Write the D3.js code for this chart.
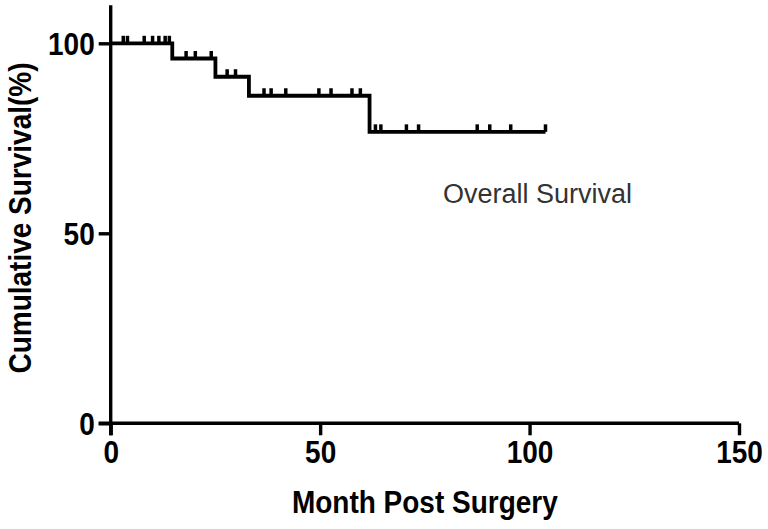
<!DOCTYPE html>
<html>
<head>
<meta charset="utf-8">
<script src="https://cdn.jsdelivr.net/npm/d3@7"></script>
<style>
  body { margin: 0; background: #fff; }
  text { font-family: "Liberation Sans", Arial, sans-serif; }
</style>
</head>
<body>
<svg id="chart" width="768" height="529"></svg>
<script>
var width = 768;
var height = 529;

// step curve: time the survival drops to the new value
var stepMonths = [0, 14.7, 25, 33, 61.8, 103.8];
var stepSurvival = [100, 96, 91.2, 86.2, 76.7, 76.7];

// censored patients (months)
var censorMonths = [3, 4, 8, 10, 11.5, 13, 14, 18, 20.2, 24, 27.8, 29.8,
    36.6, 38.3, 41.8, 49.7, 52.6, 57.6, 59.6,
    63.2, 64.5, 70.6, 73.5, 87.5, 90.5, 95.5, 103.8];

var xTicks = [0, 50, 100, 150];
var yTicks = [0, 50, 100];

var svg = d3.select("#chart");

var x = d3.scaleLinear().domain([0, 150]).range([110.7, 739]);
var y = d3.scaleLinear().domain([0, 110]).range([423.3, 5.3]);

// survival value at a given month
function survivalAt(t) {
    var s = stepSurvival[0];
    for (var i = 0; i < stepMonths.length; i++) {
        if (stepMonths[i] <= t) s = stepSurvival[i];
    }
    return s;
}

// axes
var xAxis = d3.axisBottom(x).tickValues(xTicks).tickSize(12).tickSizeOuter(0).tickPadding(4);
var yAxis = d3.axisLeft(y).tickValues(yTicks).tickSize(12).tickSizeOuter(0).tickPadding(4);

var gx = svg.append("g").attr("transform", "translate(0," + y(0) + ")").call(xAxis);
var gy = svg.append("g").attr("transform", "translate(" + x(0) + ",0)").call(yAxis);

[gx, gy].forEach(function(g) {
    g.select(".domain").attr("stroke", "#000").attr("stroke-width", 3.4);
    g.selectAll(".tick line").attr("stroke", "#000").attr("stroke-width", 3.4);
    g.selectAll(".tick text")
        .attr("fill", "#000")
        .attr("transform", "scale(1,1.1)")
        .style("font-size", "28px")
        .style("font-weight", "bold")
        .style("font-family", "'Liberation Sans', Arial, sans-serif");
});
// extend the x axis left of the y axis like the original
gx.select(".domain").attr("d", "M" + (x(0) - 12) + ",0H" + x(150));
gy.select(".domain").attr("d", "M0," + y(110) + "V" + (y(0) + 12));
gy.selectAll(".tick text").attr("dy", "0.36em");

// survival curve
var line = d3.line()
    .x(function(d, i) { return x(stepMonths[i]); })
    .y(function(d, i) { return y(stepSurvival[i]); })
    .curve(d3.curveStepAfter);

svg.append("path")
    .datum(stepMonths)
    .attr("d", line)
    .attr("fill", "none")
    .attr("stroke", "#000")
    .attr("stroke-width", 3.8)
    .attr("stroke-linejoin", "miter");

// censor ticks
svg.selectAll("line.censor").data(censorMonths)
    .enter().append("line")
    .attr("class", "censor")
    .attr("x1", function(d) { return x(d); })
    .attr("x2", function(d) { return x(d); })
    .attr("y1", function(d) { return y(survivalAt(d)); })
    .attr("y2", function(d) { return y(survivalAt(d)) - 7.5; })
    .attr("stroke", "#000")
    .attr("stroke-width", 3.5);

// labels
svg.append("text")
    .attr("transform", "translate(" + (x(0) + x(150)) / 2 + ",513) scale(1,1.1)")
    .attr("text-anchor", "middle")
    .style("font-size", "28px")
    .style("font-weight", "bold")
    .text("Month Post Surgery");

svg.append("text")
    .attr("transform", "translate(31," + 218 + ") rotate(-90) scale(1,1.1)")
    .attr("text-anchor", "middle")
    .style("font-size", "28px")
    .style("font-weight", "bold")
    .text("Cumulative Survival(%)");

svg.append("text")
    .attr("x", 443)
    .attr("y", 203)
    .attr("fill", "#333")
    .style("font-size", "27px")
    .text("Overall Survival");
</script>
</body>
</html>
